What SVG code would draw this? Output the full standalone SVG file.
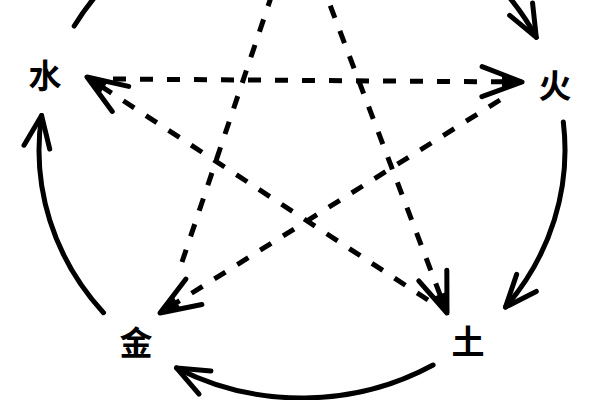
<svg xmlns="http://www.w3.org/2000/svg" width="600" height="400" viewBox="0 0 600 400">
<style>
.arc{fill:none;stroke:#000;stroke-width:5;stroke-linecap:round}
.dash{fill:none;stroke:#000;stroke-width:5;stroke-dasharray:13 14}
.lbl{font-family:"Noto Sans CJK SC","Noto Sans CJK JP",sans-serif;font-size:33px;font-weight:bold;fill:#000;text-anchor:middle}
</style>
<defs>
<marker id="ah" markerUnits="userSpaceOnUse" markerWidth="50" markerHeight="50" viewBox="-45 -25 50 50" refX="0" refY="0" orient="auto" overflow="visible">
<path d="M -32 -13 L 0 0 L -32 13" fill="none" stroke="#000" stroke-width="5" stroke-linecap="round" stroke-linejoin="round"/>
</marker>
<marker id="dh" markerUnits="userSpaceOnUse" markerWidth="60" markerHeight="60" viewBox="-50 -30 60 60" refX="0" refY="0" orient="auto" overflow="visible">
<path d="M -40 -15 L 0 0 L -40 15" fill="none" stroke="#000" stroke-width="5" stroke-linecap="round" stroke-linejoin="round"/>
<path d="M -20 -8 L 0 0 L -20 8 Z" fill="#000"/>
</marker>
</defs>
<g id="connectors">
<path class="arc" d="M 488 -25.4 A 263 248 0 0 1 536.3 37.4" marker-end="url(#ah)"/>
<path class="arc" d="M 563.3 121.9 A 263 248 0 0 1 505.5 307.1" marker-end="url(#ah)"/>
<path class="arc" d="M 433.1 365 A 263 248 0 0 1 176.5 367.9" marker-end="url(#ah)"/>
<path class="arc" d="M 103.5 312.7 A 263 248 0 0 1 41.6 115.5" marker-end="url(#ah)"/>
<path class="arc" d="M 74.2 26 A 263 248 0 0 1 126 -34.3" marker-end="url(#ah)"/>
<path class="dash" d="M 113 79 L 522 82" marker-end="url(#dh)"/>
<path class="dash" d="M 500 100 L 160 313" marker-end="url(#dh)"/>
<path class="dash" d="M 182 262 L 297 -80" marker-end="url(#dh)"/>
<path class="dash" d="M 301.5 -70 L 447 313" marker-end="url(#dh)"/>
<path class="dash" d="M 428 300 L 87 77" marker-end="url(#dh)"/>
</g>
<g id="node-water"><text class="lbl" x="45" y="88">水</text></g>
<g id="node-fire"><text class="lbl" x="555" y="98">火</text></g>
<g id="node-metal"><text class="lbl" x="136" y="355">金</text></g>
<g id="node-earth"><text class="lbl" x="468" y="354">土</text></g>
</svg>
